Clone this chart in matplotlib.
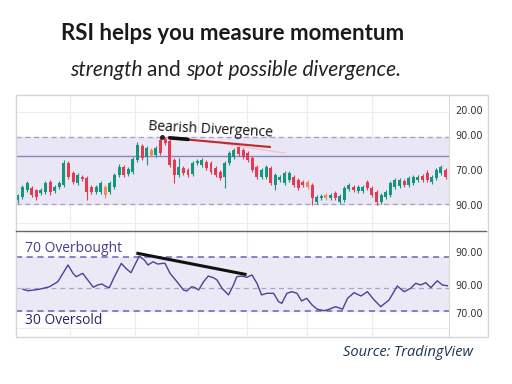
import matplotlib
matplotlib.use("Agg")
import matplotlib.pyplot as plt
from matplotlib.patches import Rectangle

# ---- price candles (arbitrary price units) ----
opens = [31, 34, 41, 43, 41, 38, 39, 49, 40, 44, 46, 68, 58, 48, 54, 53, 44, 39, 39, 44,
         39, 44, 56, 64, 57, 59, 71, 85, 74, 81, 76, 91, 92, 90, 71, 56, 63, 61, 57, 68,
         66, 69, 68, 63, 59, 54, 68, 74, 84, 81, 78, 73, 64, 54, 54, 63, 46, 51, 48, 51,
         54, 51, 49, 49, 46, 29, 33, 36, 33, 38, 29, 31, 42, 44, 40, 40, 49, 43, 39, 29,
         34, 36, 44, 45, 50, 46, 48, 51, 55, 58, 49, 53, 58, 61]
closes = [36, 44, 48, 36, 34, 41, 48, 39, 44, 48, 68, 54, 49, 56, 52, 39, 39, 44, 48, 36,
          48, 56, 64, 56, 62, 72, 86, 73, 83, 76, 83, 78, 88, 66, 56, 64, 58, 56, 68, 70,
          71, 63, 59, 56, 53, 68, 78, 81, 77, 74, 71, 61, 54, 61, 64, 48, 56, 54, 58, 58,
          46, 43, 46, 44, 33, 34, 35, 33, 36, 33, 35, 43, 46, 41, 44, 44, 43, 36, 29, 36,
          39, 48, 51, 51, 46, 53, 54, 54, 51, 51, 54, 61, 64, 54]
highs = [37, 46, 50, 45, 42, 43, 50, 51, 46, 50, 71, 70, 60, 58, 56, 55, 46, 46, 50, 46,
         50, 58, 67, 66, 64, 74, 89, 87, 85, 83, 85, 94, 94, 92, 73, 73, 65, 63, 70, 72,
         73, 71, 70, 65, 61, 70, 80, 83, 86, 83, 80, 75, 66, 63, 66, 65, 58, 56, 60, 60,
         56, 53, 51, 51, 48, 36, 37, 38, 38, 40, 37, 45, 48, 46, 46, 46, 51, 45, 41, 38,
         41, 50, 53, 53, 52, 55, 56, 56, 57, 61, 56, 63, 66, 63]
lows = [28, 32, 39, 34, 31, 36, 37, 36, 38, 42, 44, 52, 47, 46, 50, 31, 37, 37, 37, 33,
        37, 42, 54, 54, 55, 57, 69, 71, 66, 74, 74, 76, 86, 64, 48, 54, 56, 54, 55, 66,
        64, 61, 57, 54, 51, 43, 66, 72, 75, 72, 69, 59, 52, 52, 52, 46, 41, 49, 46, 49,
        44, 41, 44, 42, 26, 27, 31, 31, 31, 31, 27, 29, 40, 39, 38, 38, 41, 34, 26, 27,
        32, 34, 42, 43, 44, 44, 46, 49, 49, 49, 47, 51, 56, 52]
# orange-ish candles in the screenshot
orange_idx = [19, 29, 63, 67]

price_ticks = [121, 96, 61, 26]
price_labels = ["20.00", "90.00", "70.00", "90.00"]

# ---- RSI line ----
rsi_x = [1.1, 2.2, 4.7, 6.9, 8.7, 9.8, 10.9, 12.0, 12.7, 14.1, 15.2, 16.4, 17.4, 18.3, 19.2,
         19.9, 21.0, 22.5, 23.5, 24.6, 25.6, 26.4, 27.5, 28.3, 29.4, 30.4, 31.5, 32.0, 33.1,
         34.6, 36.0, 36.7, 37.8, 38.5, 39.3, 40.4, 41.4, 42.5, 43.3, 44.4, 45.8, 46.9, 47.6,
         48.7, 49.8, 50.9, 52.0, 53.0, 54.1, 55.6, 56.7, 57.4, 58.5, 59.6, 60.7, 61.7, 62.8,
         64.0, 65.1, 66.6, 67.7, 69.1, 70.6, 71.7, 73.1, 74.6, 76.0, 77.5, 78.9, 80.7, 82.5,
         84.0, 85.4, 86.5, 87.6, 88.7, 89.8, 91.2, 92.3, 93.4]
rsi_y = [46.1, 45.0, 46.1, 48.0, 51.7, 57.9, 64.1, 57.9, 55.4, 57.9, 53.0, 47.6, 49.3, 50.0, 48.0,
         47.3, 55.4, 65.3, 61.6, 58.4, 65.3, 70.7, 67.8, 64.1, 66.5, 64.8, 65.3, 65.3, 57.9,
         51.7, 45.6, 44.8, 48.0, 47.3, 45.6, 51.7, 55.9, 54.7, 53.0, 46.8, 41.9, 49.3, 55.4,
         55.9, 55.0, 56.7, 50.5, 41.9, 43.1, 43.1, 36.9, 35.7, 43.1, 44.3, 43.1, 37.4, 39.4,
         34.4, 31.3, 30.2, 31.3, 33.2, 31.3, 39.4, 43.6, 41.1, 44.3, 38.1, 33.2, 38.1, 48.5,
         44.3, 46.8, 50.5, 49.3, 51.0, 47.3, 52.4, 49.3, 48.7]
rsi_ticks = [73.7, 49.3, 28.5]
rsi_labels = ["90.00", "90.00", "70.00"]

grid_x = [11.4, 25.5, 39.2, 49.8, 62.9, 77.0]

GREEN = '#17957a'
RED = '#e63a50'
ORANGE = '#f0895a'
LAV = '#e9e6f6'

W, H = 512, 384
fig = plt.figure(figsize=(5.12, 3.84), dpi=100)
fig.patch.set_facecolor('white')

def fx(px):
    return px / W

def fy(py):
    return 1 - py / H

ax_p = fig.add_axes([fx(16), fy(231), fx(449) - fx(16), fy(95) - fy(231)])
ax_r = fig.add_axes([fx(16), fy(337), fx(449) - fx(16), fy(231) - fy(337)])

for ax in (ax_p, ax_r):
    ax.set_xlim(-0.4, 93.75)
    for s in ('left', 'top', 'bottom'):
        ax.spines[s].set_visible(False)
    ax.spines['right'].set_color('#d9d9d9')
    ax.set_xticks([])
    ax.yaxis.tick_right()
    ax.tick_params(axis='y', length=0, pad=4.5, labelsize=7, labelcolor='#333333')
    for gx in grid_x:
        ax.axvline(gx, color='#ececec', lw=0.8, zorder=0)

# ---- price pane ----
ax_p.set_ylim(0, 136)
ax_p.set_yticks(price_ticks)
ax_p.set_yticklabels(price_labels)
ax_p.axhspan(27, 94, color=LAV, zorder=0.5)
ax_p.axhline(94, color='#a99cc8', lw=0.9, ls=(0, (4, 3)), zorder=1)
ax_p.axhline(27, color='#a99cc8', lw=0.9, ls=(0, (4, 3)), zorder=1)
ax_p.axhline(75, color='#8b83c0', lw=1.0, zorder=1)
ax_p.axhline(119, color='#eeeeee', lw=0.8, zorder=0)
ax_p.axhline(8, color='#eeeeee', lw=0.8, zorder=0)

xs = list(range(len(opens)))
cols = []
for i, (o, c) in enumerate(zip(opens, closes)):
    if i in orange_idx:
        cols.append(ORANGE)
    elif c >= o:
        cols.append(GREEN)
    else:
        cols.append(RED)
ax_p.vlines(xs, lows, highs, colors=cols, lw=0.8, zorder=2)
bottoms = [min(o, c) for o, c in zip(opens, closes)]
heights = [max(abs(c - o), 1.5) for o, c in zip(opens, closes)]
ax_p.bar(xs, heights, bottom=bottoms, width=0.65, color=cols, zorder=3)

# divergence markers on price
ax_p.plot([45, 58], [87, 78], color='#f2c4c8', lw=1.0, zorder=4)
ax_p.plot([33.1, 54.8], [93, 84], color='#c0282e', lw=1.5, zorder=4)
ax_p.plot([33.0, 37.0], [93.2, 91.6], color='#111111', lw=2.6, zorder=5, solid_capstyle='round')
ax_p.plot([31.3], [93.7], 'o', color='#222222', ms=2.5, zorder=5)
ax_p.text(42, 101, "Bearish Divergence", fontsize=10, family='Open Sans',
          color='#111111', ha='center', va='center', rotation=-3, zorder=6)

# ---- RSI pane ----
ax_r.set_ylim(10.7, 89.3)
ax_r.set_yticks(rsi_ticks)
ax_r.set_yticklabels(rsi_labels)
ax_r.axhspan(30, 70, color='#ece9f6', zorder=0.5)
ax_r.axhline(70, color='#6e62b0', lw=1.1, ls=(0, (4, 3)), zorder=1)
ax_r.axhline(30, color='#6e62b0', lw=1.1, ls=(0, (4, 3)), zorder=1)
ax_r.axhline(47, color='#aaa3d2', lw=0.9, ls=(0, (4, 3)), zorder=1)
ax_r.axhline(17.4, color='#eeeeee', lw=0.8, zorder=0)
ax_r.plot(rsi_x, rsi_y, color='#4b4196', lw=1.0, zorder=3)
ax_r.plot([26.1, 49.4], [72.7, 57.2], color='#111111', lw=2.2, zorder=4)
ax_r.text(1.5, 76.5, "70 Overbought", fontsize=10, family='Open Sans',
          color='#4a3d8f', ha='left', va='center')
ax_r.text(1.5, 23, "30 Oversold", fontsize=10, family='Open Sans',
          color='#2a2766', ha='left', va='center')

# frames
fig.add_artist(Rectangle((fx(16), fy(337)), fx(488) - fx(16), fy(95) - fy(337),
                         transform=fig.transFigure, fill=False, ec='#d6d6d6', lw=1.0))
fig.add_artist(plt.Line2D([fx(16), fx(486)], [fy(231), fy(231)], transform=fig.transFigure,
                          color='#666666', lw=1.0))

# ---- titles ----
fig.text(fx(233), fy(33), "RSI helps you measure momentum", fontsize=16, weight='bold',
         family='Lato', color='#1a1a1a', ha='center', va='center')
t1 = fig.text(fx(70), fy(70), "strength ", fontsize=15, style='italic', family='Lato',
              color='#222222', ha='left', va='center')
a1 = plt.annotate("and ", xy=(1, 0.5), xycoords=t1, va='center', ha='left',
                  fontsize=15, family='Lato', color='#222222')
plt.annotate("spot possible divergence.", xy=(1, 0.5), xycoords=a1, va='center', ha='left',
             fontsize=15, style='italic', family='Lato', color='#222222')

fig.text(fx(343), fy(353), "Source: TradingView", fontsize=10.5, style='italic',
         family='Open Sans', color='#1c3550', ha='left', va='center')

fig.savefig("out.png", dpi=100)
